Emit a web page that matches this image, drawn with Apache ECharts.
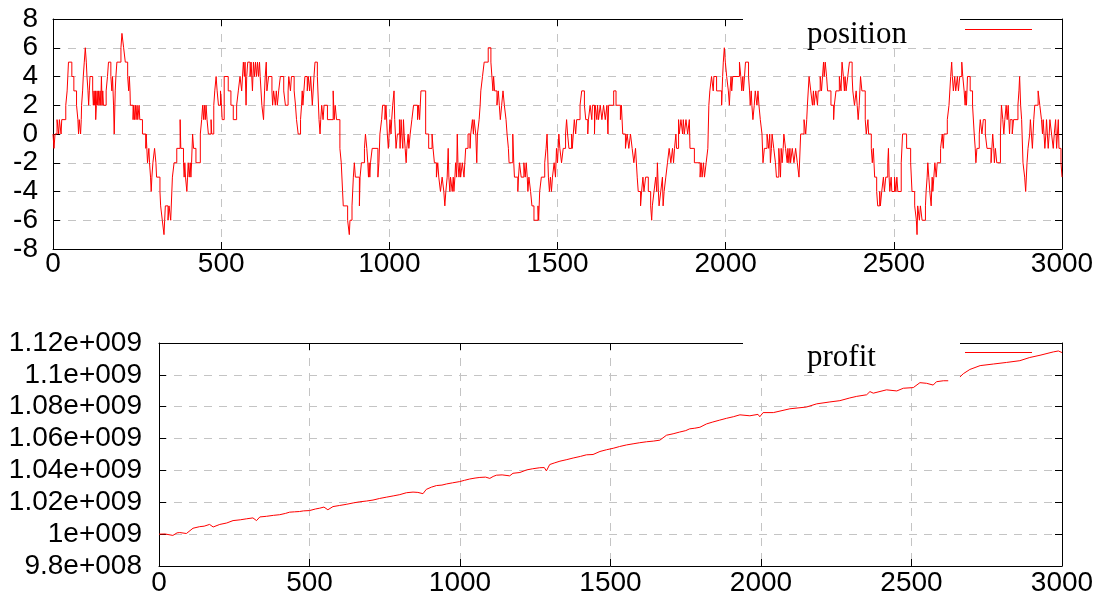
<!DOCTYPE html>
<html><head><meta charset="utf-8">
<script src="https://cdn.jsdelivr.net/npm/echarts@6/dist/echarts.min.js"></script>
<style>html,body{margin:0;padding:0;background:#fff}#c{width:1099px;height:597px}</style>
</head><body><div id="c"></div>
<script>
const xTickLabels = ['0','500','1000','1500','2000','2500','3000'];
const positionTickLabels = ['-8','-6','-4','-2','0','2','4','6','8'];
const profitTickLabels = ['9.8e+008','1e+009','1.02e+009','1.04e+009','1.06e+009','1.08e+009','1.1e+009','1.12e+009'];

// position: [time, new level] change points (level holds until next change)
const positionSteps = [
[0,0],[3,-1],[6,0],[12,1],[17,0],[19,1],[24,0],[26,1],[38,2],[42,3],[46,5],[56,4],[62,3],[70,2],[74,1],[76,0],[78,1],[82,0],[84,1],[85,2],[88,3],[90,4],[93,5],[96,6],[99,5],[101,4],[104,3],[106,2],[108,3],[110,4],[118,3],[120,2],[122,3],[124,2],[126,3],[127,1],[129,2],[131,3],[133,2],[135,3],[137,2],[140,3],[142,2],[144,4],[146,2],[148,3],[150,2],[158,3],[162,4],[165,5],[172,4],[175,3],[177,4],[180,2],[182,0],[185,3],[187,4],[190,5],[202,6],[205,7],[210,6],[215,5],[222,4],[225,3],[227,4],[229,3],[230,2],[238,1],[240,2],[242,1],[245,2],[247,1],[250,2],[252,1],[256,2],[258,1],[266,0],[276,-1],[277,0],[279,-1],[281,-2],[285,-1],[287,-2],[290,-3],[292,-4],[294,-3],[297,-2],[302,-1],[306,-2],[308,-3],[318,-4],[320,-5],[325,-6],[330,-7],[332,-6],[334,-5],[342,-6],[345,-5],[350,-6],[355,-3],[360,-2],[368,-1],[378,1],[380,-1],[388,-2],[390,-3],[392,-2],[394,-3],[398,-4],[400,-3],[402,-2],[405,-3],[408,-2],[410,-3],[412,-2],[415,0],[418,-1],[425,-2],[438,0],[442,1],[445,2],[448,1],[450,2],[453,1],[455,2],[458,1],[462,0],[470,1],[472,0],[478,2],
[481,3],[485,4],[488,3],[492,2],[498,3],[501,2],[503,1],[509,4],[521,3],[529,2],[536,1],[546,2],[551,3],[556,4],[561,3],[566,5],[569,4],[571,5],[574,2],[576,4],[579,5],[586,4],[589,5],[593,3],[596,5],[599,4],[602,5],[605,4],[608,5],[611,4],[614,5],[616,4],[621,2],[626,1],[629,3],[631,4],[634,5],[636,3],[641,4],[651,3],[653,2],[656,3],[661,2],[664,3],[667,2],[671,3],[676,4],[686,3],[691,2],[699,3],[701,4],[706,3],[709,4],[717,3],[721,2],[724,1],[729,0],[736,1],[739,2],[741,3],[743,2],[746,3],[749,4],[756,3],[759,4],[763,3],[766,4],[771,2],[776,4],[779,5],[786,4],[791,1],[794,0],[796,1],[799,2],[803,1],[806,2],[816,1],[833,3],[836,1],[839,2],[843,1],[853,-1],[857,-2],[861,-4],[863,-5],[876,-6],[881,-7],[883,-6],[889,-5],[893,-3],[896,-2],[899,-3],[911,-5],[913,-3],[917,-2],[926,-1],[929,0],[933,-1],[936,-2],[938,-3],[940,-2],[942,-3],[944,-2],[949,-1],[966,-3],[969,-2],
[972,0],[977,1],[980,2],[987,1],[990,2],[994,0],[997,-1],[1002,1],[1005,0],[1007,1],[1010,2],[1014,3],[1016,1],[1018,0],[1020,-1],[1024,0],[1030,1],[1032,-1],[1035,1],[1037,0],[1040,-1],[1042,1],[1044,0],[1047,-1],[1050,-2],[1052,-1],[1056,0],[1058,-1],[1062,0],[1067,1],[1072,2],[1084,1],[1087,2],[1090,1],[1094,3],[1108,0],[1117,-1],[1127,0],[1130,-1],[1134,-2],[1140,-3],[1144,-2],[1147,-3],[1152,-4],[1157,-3],[1162,-4],[1165,-5],[1168,-4],[1172,-3],[1175,-1],[1177,-3],[1180,-4],[1182,-3],[1187,-4],[1190,-3],[1192,-4],[1195,-3],[1197,-2],[1200,-3],[1202,0],[1204,-2],[1207,-3],[1210,-2],[1212,-3],[1217,-2],[1222,-3],[1227,-1],[1234,0],[1240,-1],[1242,0],[1247,1],[1250,0],[1252,1],[1257,0],[1260,-2],[1262,0],[1267,1],[1270,2],[1272,3],[1277,4],[1282,5],[1294,6],[1302,5],[1305,4],[1308,3],[1310,4],[1313,3],[1320,2],[1324,3],[1327,2],[1330,1],[1334,2],[1338,3],[1342,2],[1347,1],[1350,0],[1354,-1],[1356,-2],[1367,0],[1370,-2],[1372,-3],[1382,-4],[1384,-3],[1387,-2],[1392,-3],[1400,-2],[1404,-3],[1407,-2],[1410,-3],[1412,-4],[1415,-3],[1420,-4],[1424,-5],[1430,-6],[1442,-5],[1444,-6],[1447,-4],[1452,-3],
[1462,-2],[1466,-1],[1469,0],[1473,-3],[1476,-4],[1479,-3],[1482,-4],[1485,-3],[1490,-2],[1494,-3],[1497,-1],[1500,-2],[1502,-1],[1504,0],[1507,-1],[1512,-2],[1517,-1],[1524,0],[1527,1],[1530,0],[1534,-1],[1542,0],[1544,-1],[1547,0],[1550,1],[1554,0],[1557,1],[1567,2],[1572,3],[1580,2],[1584,1],[1590,0],[1592,1],[1597,2],[1602,1],[1604,2],[1610,0],[1612,2],[1617,1],[1619,2],[1622,1],[1627,2],[1632,1],[1637,2],[1642,1],[1647,2],[1650,0],[1652,2],[1667,3],[1674,2],[1687,1],[1690,2],[1694,0],[1702,-1],[1707,0],[1712,-1],[1717,0],[1722,-1],[1727,-2],[1732,-1],[1737,-3],[1740,-4],[1747,-5],[1750,-4],[1754,-3],[1757,-4],[1762,-3],[1770,-4],[1777,-5],[1780,-6],[1782,-5],[1787,-4],[1792,-3],[1795,-4],[1797,-2],[1800,-4],[1802,-5],[1807,-4],[1812,-3],[1814,-5],[1817,-4],[1822,-3],[1827,-2],[1832,-1],[1837,-2],[1842,-1],[1845,-2],[1848,-1],[1852,0],[1854,-1],[1860,1],[1862,0],[1867,1],[1872,0],[1874,1],[1877,0],[1882,1],[1887,0],[1892,1],[1894,-1],[1907,-2],[1924,-3],[1927,-2],[1930,-3],[1934,-2],[1937,-3],[1942,-2],[1947,-1],[1950,2],
[1953,3],[1958,4],[1963,3],[1965,4],[1973,3],[1988,2],[1991,4],[1993,5],[1996,6],[1999,5],[2003,4],[2008,3],[2011,2],[2013,3],[2016,4],[2018,3],[2021,4],[2041,5],[2045,4],[2048,3],[2051,4],[2053,3],[2056,4],[2059,5],[2068,4],[2071,3],[2073,2],[2076,3],[2078,2],[2081,1],[2085,2],[2088,3],[2093,2],[2096,3],[2099,2],[2103,1],[2108,0],[2111,-2],[2115,-1],[2123,0],[2128,-1],[2131,0],[2133,-2],[2136,-1],[2138,0],[2143,-1],[2148,-2],[2151,-3],[2158,-1],[2163,-3],[2165,-1],[2168,-2],[2171,-1],[2173,0],[2178,-1],[2183,-2],[2185,-1],[2188,-2],[2191,-1],[2193,-2],[2198,-1],[2203,-2],[2208,-1],[2213,-2],[2218,-3],[2223,0],[2233,1],[2238,0],[2241,1],[2243,2],[2248,4],[2253,3],[2258,2],[2261,3],[2263,2],[2268,3],[2273,2],[2275,3],[2281,4],[2285,3],[2288,4],[2291,5],[2293,4],[2296,5],[2300,4],[2303,3],[2313,2],[2321,1],[2323,2],[2328,3],[2338,4],[2343,3],[2346,5],[2350,4],[2353,3],[2355,4],[2358,3],[2363,4],[2368,5],[2376,4],[2378,3],[2383,2],[2388,3],[2391,2],[2394,1],[2397,2],[2399,3],[2401,4],[2405,3],[2415,1],[2418,0],[2423,1],[2425,0],[2433,-1],[2436,-2],[2439,-1],[2443,-3],
[2449,-4],[2452,-5],[2458,-4],[2460,-5],[2464,-4],[2469,-3],[2472,-4],[2476,-3],[2482,-2],[2484,-1],[2486,-3],[2488,-4],[2492,-3],[2494,-4],[2502,-3],[2506,-4],[2509,-3],[2512,-4],[2522,-2],[2526,0],[2538,-1],[2550,-2],[2554,-4],[2562,-5],[2567,-6],[2569,-7],[2571,-5],[2576,-6],[2579,-5],[2584,-6],[2594,-5],[2596,-4],[2599,-3],[2601,-2],[2604,-3],[2607,-4],[2611,-5],[2614,-3],[2616,-4],[2619,-3],[2622,-2],[2626,-3],[2629,-2],[2639,-1],[2644,0],[2647,-1],[2649,0],[2659,1],[2664,2],[2669,4],[2672,5],[2674,4],[2677,3],[2681,4],[2684,3],[2689,4],[2692,3],[2696,4],[2702,5],[2705,4],[2709,3],[2712,2],[2714,3],[2716,2],[2719,4],[2727,3],[2734,2],[2739,0],[2742,-1],[2744,-2],[2747,-1],[2754,0],[2757,1],[2762,0],[2766,1],[2772,0],[2777,-1],[2789,-2],[2794,0],[2797,-1],[2799,-2],[2802,-1],[2806,-2],[2817,0],[2820,2],[2824,1],[2827,0],[2830,1],[2834,2],[2837,1],[2840,2],[2844,0],[2846,1],[2852,0],[2856,1],[2869,2],[2872,3],[2874,4],[2877,2],[2880,1],[2884,-2],[2889,-3],[2892,-4],[2896,-2],[2899,-1],[2904,0],[2906,1],[2909,0],[2912,-1],[2914,0],[2916,1],[2919,2],[2929,3],[2934,2],[2939,1],[2942,0],[2944,1],[2949,-1],[2952,0],[2954,1],[2959,-1],[2962,0],[2964,1],[2969,0],[2974,-1],[2977,0],[2981,1],[2984,-1],[2989,1],[2991,-1],[2997,-2],[3000,-3]
];

// profit: [time, value]
const profitPoints = [
[0,1.0000e9],[20,1.0001e9],[46,0.9992e9],[60,1.0008e9],[69,1.0010e9],[91,1.0004e9],[113,1.0037e9],[135,1.0047e9],[150,1.0050e9],[168,1.0061e9],[180,1.0045e9],[202,1.0061e9],[225,1.0070e9],[246,1.0085e9],[270,1.0090e9],[290,1.0096e9],[312,1.0102e9],[324,1.0085e9],[335,1.0108e9],[357,1.0112e9],[380,1.0118e9],[401,1.0122e9],[420,1.0130e9],[434,1.0138e9],[450,1.0140e9],[467,1.0142e9],[480,1.0146e9],[500,1.0148e9],[520,1.0158e9],[534,1.0163e9],[548,1.0170e9],[561,1.0153e9],[578,1.0173e9],[600,1.0180e9],[622,1.0187e9],[645,1.0196e9],[667,1.0203e9],[690,1.0208e9],[711,1.0214e9],[733,1.0224e9],[755,1.0232e9],[778,1.0240e9],[800,1.0248e9],[822,1.0260e9],[844,1.0264e9],[860,1.0262e9],[877,1.0254e9],[888,1.0281e9],[905,1.0295e9],[922,1.0305e9],[940,1.0308e9],[955,1.0315e9],[975,1.0322e9],[999,1.0330e9],[1015,1.0338e9],[1032,1.0346e9],[1050,1.0352e9],[1066,1.0356e9],[1085,1.0358e9],[1099,1.0350e9],[1110,1.0362e9],[1121,1.0370e9],[1140,1.0372e9],[1165,1.0366e9],[1176,1.0382e9],[1199,1.0387e9],[1221,1.0403e9],[1240,1.0410e9],[1265,1.0417e9],[1280,1.0418e9],[1287,1.0397e9],[1298,1.0437e9],[1315,1.0448e9],[1332,1.0458e9],[1355,1.0468e9],[1376,1.0478e9],[1400,1.0488e9],[1420,1.0498e9],[1442,1.0500e9],[1465,1.0519e9],[1487,1.0530e9],[1509,1.0539e9],[1530,1.0550e9],[1553,1.0560e9],[1575,1.0567e9],[1597,1.0574e9],[1620,1.0580e9],[1642,1.0584e9],[1664,1.0590e9],[1686,1.0621e9],[1708,1.0630e9],[1730,1.0641e9],[1750,1.0650e9],[1763,1.0661e9],[1780,1.0665e9],[1797,1.0671e9],[1819,1.0692e9],[1840,1.0704e9],[1863,1.0716e9],[1885,1.0727e9],[1908,1.0737e9],[1930,1.0749e9],[1963,1.0743e9],[1990,1.0752e9],[1996,1.0737e9],[2007,1.0763e9],[2041,1.0763e9],[2096,1.0787e9],[2151,1.0798e9],[2185,1.0818e9],[2229,1.0830e9],[2262,1.0838e9],[2295,1.0855e9],[2318,1.0865e9],[2351,1.0875e9],[2362,1.0895e9],[2373,1.0885e9],[2417,1.0906e9],[2451,1.0899e9],[2473,1.0916e9],[2506,1.0920e9],[2528,1.0951e9],[2550,1.0947e9],[2572,1.0936e9],[2583,1.0957e9],[2606,1.0963e9],[2622,1.0963e9],[2640,null],[2661,1.0987e9],[2667,1.0981e9],[2672,1.1007e9],[2694,1.1034e9],[2728,1.1058e9],[2772,1.1068e9],[2816,1.1078e9],[2860,1.1089e9],[2893,1.1109e9],[2927,1.1123e9],[2971,1.1144e9],[2988,1.1150e9],[3000,1.1140e9]
];

const chart = echarts.init(document.getElementById('c'), null, {renderer:'canvas'});
const RED = '#ff0000';
const GRIDC = '#c4c4c4';
const LABEL_FONT = {fontFamily:'Liberation Sans', fontSize:28, color:'#000'};

function xAxes(gridIndex, labelMargin){
  const base = {type:'value', gridIndex, min:0, max:3000, interval:500,
    axisLine:{show:true, onZero:false, lineStyle:{color:'#000', width:1}},
    axisTick:{show:true, inside:true, length:7, lineStyle:{color:'#000'}}};
  return [
    Object.assign({}, base, {position:'bottom',
      axisLabel:Object.assign({show:true, margin:labelMargin, showMinLabel:true, showMaxLabel:true,
        formatter:(v)=>xTickLabels[Math.round(v/500)]}, LABEL_FONT),
      splitLine:{show:true, lineStyle:{color:GRIDC, type:[8,7], width:1}}}),
    Object.assign({}, base, {position:'top', axisLabel:{show:false}, splitLine:{show:false}})
  ];
}
function yAxes(gridIndex, min, max, interval, labels, margin){
  const base = {type:'value', gridIndex, min, max, interval,
    axisLine:{show:true, onZero:false, lineStyle:{color:'#000', width:1}},
    axisTick:{show:true, inside:true, length:7, lineStyle:{color:'#000'}}};
  return [
    Object.assign({}, base, {position:'left',
      axisLabel:Object.assign({show:true, margin, showMinLabel:true, showMaxLabel:true,
        formatter:(v)=>labels[Math.round((v-min)/interval)]}, LABEL_FONT),
      splitLine:{show:true, lineStyle:{color:GRIDC, type:[8,7], width:1}}}),
    Object.assign({}, base, {position:'right', axisLabel:{show:false}, splitLine:{show:false}})
  ];
}

function legendFor(name, top){
  return {data:[{name, icon:'rect'}], right:67, top, align:'right', itemWidth:67, itemHeight:1, itemGap:0,
    selectedMode:false, padding:0, z:30,
    formatter:'{a|{name}}',
    textStyle:{color:'#000', rich:{a:{fontFamily:'Liberation Serif', fontSize:31, color:'#000', width:153, align:'left', padding:[10,0,0,0]}}}};
}

chart.setOption({
  animation:false,
  backgroundColor:'#fff',
  grid:[
    {left:53, top:19, width:1009, height:230},
    {left:159, top:343, width:903, height:230}
  ],
  xAxis:[...xAxes(0, 1), ...xAxes(1, 3)],
  yAxis:[...yAxes(0, -8, 8, 2, positionTickLabels, 15), ...yAxes(1, 0.98e9, 1.12e9, 0.02e9, profitTickLabels, 17)],
  legend:[legendFor('position', 19), legendFor('profit', 342)],
  graphic:[
    {type:'rect', shape:{x:743, y:12, width:217, height:34}, style:{fill:'#fff'}, z:20},
    {type:'rect', shape:{x:743, y:336, width:217, height:38}, style:{fill:'#fff'}, z:20}
  ],
  series:[
    {name:'position', type:'line', xAxisIndex:0, yAxisIndex:0, step:'end', showSymbol:false, symbol:'none',
     data:positionSteps, lineStyle:{color:RED, width:1}, itemStyle:{color:RED}, z:5},
    {name:'profit', type:'line', xAxisIndex:2, yAxisIndex:2, showSymbol:false, symbol:'none', connectNulls:false,
     data:profitPoints, lineStyle:{color:RED, width:1}, itemStyle:{color:RED}, z:5}
  ]
});
</script></body></html>
